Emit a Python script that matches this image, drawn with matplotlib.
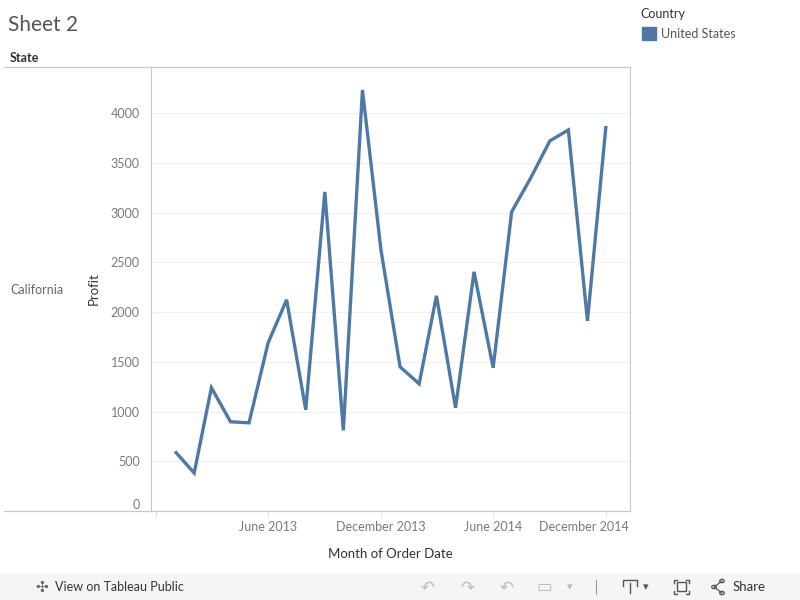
import matplotlib
matplotlib.use('Agg')
import matplotlib.pyplot as plt
from matplotlib.patches import Rectangle, Circle
from matplotlib.lines import Line2D
import datetime as dt

plt.rcParams['font.family'] = ['Lato', 'DejaVu Sans']

# monthly profit, California, Jan 2013 - Dec 2014
months = [dt.date(2013 + i // 12, i % 12 + 1, 1) for i in range(24)]
profit = [599, 382, 1240, 897, 887, 1691, 2124, 1018, 3209, 810, 4234, 2626,
          1450, 1279, 2164, 1038, 2405, 1440, 3008, 3350, 3722, 3832, 1912, 3872]
yticks = [0, 500, 1000, 1500, 2000, 2500, 3000, 3500, 4000]
xtick_dates = [dt.date(2012, 12, 1), dt.date(2013, 6, 1), dt.date(2013, 12, 1),
               dt.date(2014, 6, 1), dt.date(2014, 12, 1)]
xtick_labels = ['', 'June 2013', 'December 2013', 'June 2014', '']

W, H = 800, 600
fig = plt.figure(figsize=(8, 6), dpi=100)

def fx(px):
    return px / W

def fy(py):
    return 1 - py / H

blue = '#4e79a7'
grid = '#c8c8c8'

ax = fig.add_axes([fx(151), fy(511), fx(630 - 151), (511 - 67) / H])
ax.plot(months, profit, color=blue, lw=2.4, solid_joinstyle='miter', solid_capstyle='butt')
ax.set_xlim(dt.date(2012, 11, 23), dt.date(2015, 1, 9))
ax.set_ylim(0, 4465)

ax.set_yticks(yticks)
ax.set_yticklabels([str(v) for v in yticks], color='#7a7a7a', fontsize=9)
ax.yaxis.grid(True, color='#f0f0f0', lw=0.9)
ax.set_axisbelow(True)
ax.tick_params(axis='y', length=0, pad=8)
ax.get_yticklabels()[0].set_va('bottom')

ax.set_xticks(xtick_dates)
ax.set_xticklabels(xtick_labels, color='#7a7a7a', fontsize=9)
ax.tick_params(axis='x', length=4, color='#e4e4e4', pad=3)
fig.text(fx(629), fy(527), 'December 2014', ha='right', va='center', color='#7a7a7a', fontsize=9)

for s in ['top', 'bottom']:
    ax.spines[s].set_visible(False)
ax.spines['left'].set_color(grid)
ax.spines['right'].set_color(grid)

ax.set_xlabel('Month of Order Date', color='#333333', fontsize=9.5, labelpad=11)
ax.set_ylabel('Profit', color='#333333', fontsize=9.5, labelpad=8)

# pane borders across row header
fig.add_artist(Line2D([fx(4), fx(630)], [fy(67), fy(67)], color=grid, lw=0.9))
fig.add_artist(Line2D([fx(4), fx(630)], [fy(511), fy(511)], color=grid, lw=0.9))

fig.text(fx(8), fy(25), 'Sheet 2', fontsize=15, color='#555555', va='center')
fig.text(fx(10), fy(58), 'State', fontsize=9, color='#333333', weight='bold', va='center')
fig.text(fx(10), fy(290), 'California', fontsize=9, color='#666666', va='center')

# legend
fig.text(fx(640), fy(14), 'Country', fontsize=9, color='#333333', va='center')
fig.add_artist(Rectangle((fx(642), fy(40)), fx(14), 13 / H, color=blue))
fig.text(fx(661), fy(34), 'United States', fontsize=9, color='#555555', va='center')

# toolbar
fig.add_artist(Rectangle((0, 0), 1, 27 / H, color='#f5f5f5', zorder=0))
fig.text(fx(42), fy(587), '✣', fontsize=11, color='#666666', ha='center', va='center', family='DejaVu Sans')
fig.text(fx(55), fy(587), 'View on Tableau Public', fontsize=9, color='#333333', va='center')
for px, g in [(428, '↶'), (467, '↷'), (507, '↶'), (544, '▭')]:
    fig.text(fx(px), fy(587), g, fontsize=12, color='#bbbbbb', ha='center', va='center', family='DejaVu Sans')
fig.text(fx(570), fy(587), '▾', fontsize=8, color='#bbbbbb', ha='center', va='center', family='DejaVu Sans')
fig.add_artist(Line2D([fx(596), fx(596)], [fy(580), fy(594)], color='#999999', lw=0.8))
ic = '#555555'
# download icon
fig.add_artist(Line2D([fx(623), fx(623), fx(637), fx(637)], [fy(586), fy(580), fy(580), fy(586)], color=ic, lw=1))
fig.add_artist(Line2D([fx(630), fx(630)], [fy(583), fy(593)], color=ic, lw=1))
fig.text(fx(646), fy(587), '▾', fontsize=8, color=ic, ha='center', va='center', family='DejaVu Sans')
# fullscreen icon
fig.add_artist(Rectangle((fx(677), fy(591)), fx(9), 9 / H, fill=False, ec=ic, lw=1))
for x0, y0, dx, dy in [(674, 580, 1, 1), (689, 580, -1, 1), (674, 594, 1, -1), (689, 594, -1, -1)]:
    fig.add_artist(Line2D([fx(x0), fx(x0), fx(x0 + 3 * dx)], [fy(y0 + 3 * dy), fy(y0), fy(y0)], color=ic, lw=1))
# share icon
pts = [(714, 587), (722, 581), (722, 593)]
fig.add_artist(Line2D([fx(pts[1][0]), fx(pts[0][0]), fx(pts[2][0])],
                      [fy(pts[1][1]), fy(pts[0][1]), fy(pts[2][1])], color=ic, lw=0.9))
for px, py in pts:
    fig.add_artist(Circle((fx(px), fy(py)), 2.3 / W, transform=fig.transFigure, fc='#f5f5f5', ec=ic, lw=0.9))
fig.text(fx(733), fy(587), 'Share', fontsize=9.5, color='#333333', va='center')

fig.savefig('out.png', dpi=100)
